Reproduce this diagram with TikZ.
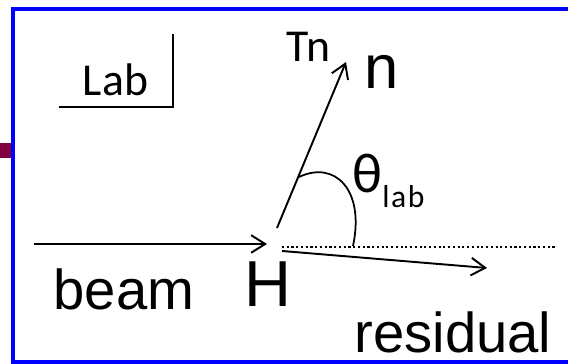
\documentclass[tikz,border=0pt]{standalone}
\usepackage{fontspec}
\setmainfont{Liberation Sans}
\newfontfamily\calfont{Carlito}
\newfontfamily\labfont[LetterSpace=5]{Carlito}
\usetikzlibrary{arrows.meta}
\definecolor{tabmaroon}{RGB}{128,0,64}
\begin{document}
\begin{tikzpicture}[
    ray/.style={line width=1.1pt, -{Straight Barb[length=8pt,width=10pt]}},
    bigtext/.style={inner sep=0pt, anchor=base, font=\fontsize{32}{36}\selectfont},
    caltext/.style={inner sep=0pt, anchor=base, font=\calfont\fontsize{26}{30}\selectfont}]
    \useasboundingbox (0,0) rectangle (11.36,7.28);
    % Frame
    \draw[blue, line width=2pt] (11.36,7.10) -- (0.26,7.10) -- (0.26,0.04) -- (11.36,0.04);
    \fill[tabmaroon] (0,4.12) rectangle (0.22,4.42);
    % Lab corner
    \node[caltext] (lab) at (2.31,5.36) {Lab};
    \coordinate (lableft) at (1.18,5.14);
    \coordinate (labcorner) at (3.46,5.14);
    \coordinate (labtop) at (3.46,6.60);
    \draw[line width=0.9pt] (lableft) -- (labcorner) -- (labtop);
    % Ends of the rays
    \coordinate (beamstart) at (0.68,2.40);
    \coordinate (beamend) at (5.34,2.40);
    \coordinate (nstart) at (5.54,2.72);
    \coordinate (nend) at (6.92,6.04);
    \coordinate (rstart) at (5.64,2.26);
    \coordinate (rend) at (9.74,1.92);
    \coordinate (dotstart) at (5.64,2.34);
    \coordinate (dotend) at (11.10,2.34);
    % Rays
    \draw[ray] (beamstart) -- (beamend);
    \draw[ray] (nstart) -- (nend);
    \draw[ray] (rstart) -- (rend);
    \draw[line width=1.1pt, dash pattern=on 1.2pt off 1.5pt] (dotstart) -- (dotend);
    % Angle
    \coordinate (arcstart) at (5.98,3.74);
    \coordinate (arcend) at (7.06,2.36);
    \draw[line width=1pt] (arcstart) .. controls (6.70,4.08) and (7.30,3.48) .. (arcend);
    % Labels
    \node[bigtext] (beam) at (2.48,1.08) {beam};
    \node[bigtext, font=\fontsize{37}{40}\selectfont] (target) at (5.35,1.14) {H};
    \node[bigtext] (residual) at (9.06,0.22) {residual};
    \node[bigtext, font=\fontsize{35}{40}\selectfont] (neutron) at (7.63,5.50) {n};
    \node[caltext] (tn) at (6.17,6.04) {Tn};
    \node[inner sep=0pt, anchor=base west] (theta) at (7.04,3.42)
        {\calfont\fontsize{32}{36}\selectfont θ\labfont\fontsize{18}{20}\selectfont\raisebox{-8.5pt}{lab}};
\end{tikzpicture}
\end{document}
